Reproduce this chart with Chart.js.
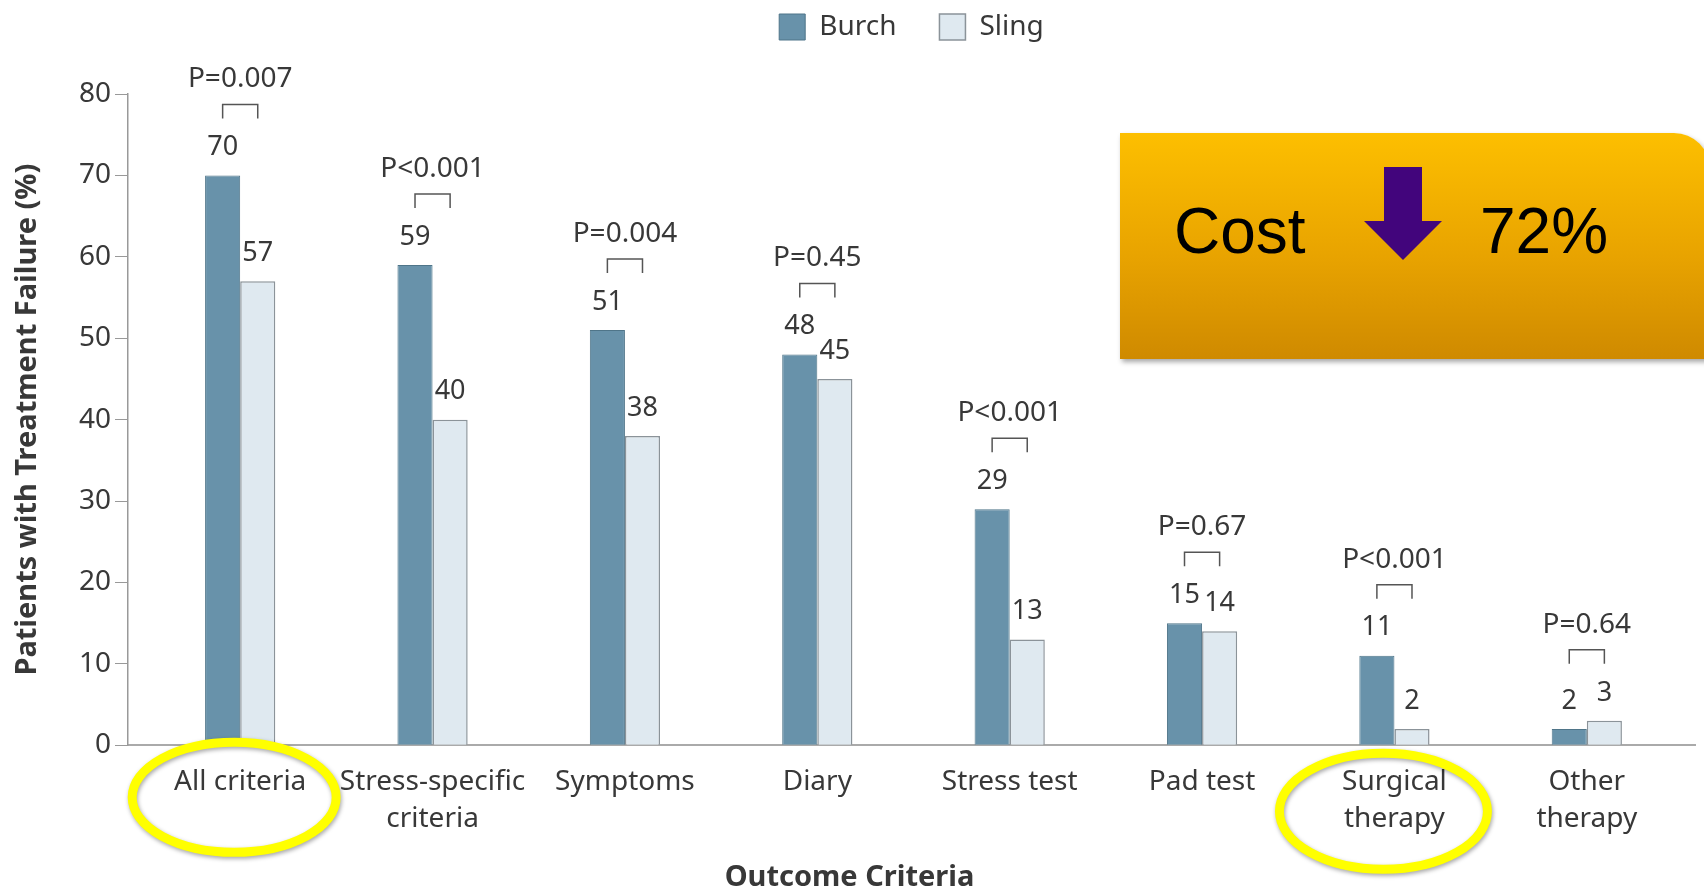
<!DOCTYPE html>
<html>
<head>
<meta charset="utf-8">
<script src="https://cdn.jsdelivr.net/npm/chart.js@4.4.1/dist/chart.umd.min.js"></script>
<style>
  html, body { margin: 0; padding: 0; background: #fff; }
  #wrap { position: relative; width: 1704px; height: 889px; overflow: hidden; }
  #chart { position: absolute; left: 0; top: 0; }
  #costBox {
    position: absolute; left: 1120px; top: 133px; width: 590px; height: 226px;
    background: linear-gradient(#fdbf00, #e8a300 55%, #cf8a00);
    border-top-right-radius: 36px;
    box-shadow: 2px 3px 5px rgba(0,0,0,0.35);
    font-family: "Liberation Sans", Arial, sans-serif; color: #000;
  }
  #costBox .t { position: absolute; top: 66px; font-size: 64px; line-height: 1; }
  #costBox svg { position: absolute; left: 242px; top: 32px; }
</style>
</head>
<body>
<div id="wrap">
  <canvas id="chart" width="1704" height="889"></canvas>
  <div id="costBox">
    <span class="t" style="left:54px">Cost</span>
    <svg width="84" height="100" viewBox="0 0 84 100">
      <polygon points="22,2 60,2 60,56 80,56 41,95 2,56 22,56" fill="#42057c"/>
    </svg>
    <span class="t" style="left:360px">72%</span>
  </div>
</div>
<script>
const categories = [
    "All criteria",
    ["Stress-specific", "criteria"],
    "Symptoms",
    "Diary",
    "Stress test",
    "Pad test",
    ["Surgical", "therapy"],
    ["Other", "therapy"],
];
const burch = [70, 59, 51, 48, 29, 15, 11, 2];
const sling = [57, 40, 38, 45, 13, 14, 2, 3];
const pValues = ["P=0.007", "P<0.001", "P=0.004", "P=0.45", "P<0.001", "P=0.67", "P<0.001", "P=0.64"];
const yTicks = [0, 10, 20, 30, 40, 50, 60, 70, 80];
const circled = [0, 6];

const FONT = "'Noto Sans', 'Open Sans', sans-serif";
const TEXT = "#383838";

// value labels, P-value brackets and the yellow circles
const annotatePlugin = {
    id: "annotate",
    afterDatasetsDraw(chart) {
        const ctx = chart.ctx;
        const m0 = chart.getDatasetMeta(0);
        const m1 = chart.getDatasetMeta(1);
        ctx.save();
        ctx.fillStyle = TEXT;
        ctx.textAlign = "center";
        ctx.textBaseline = "middle";
        categories.forEach((c, i) => {
            const b0 = m0.data[i], b1 = m1.data[i];
            ctx.font = "27px " + FONT;
            ctx.fillText(String(burch[i]), b0.x, b0.y - 28);
            ctx.fillText(String(sling[i]), b1.x, b1.y - 28);
            const top = Math.min(b0.y, b1.y);
            const by = top - 71;
            ctx.strokeStyle = "#555";
            ctx.lineWidth = 1.5;
            ctx.beginPath();
            ctx.moveTo(b0.x, by + 14);
            ctx.lineTo(b0.x, by);
            ctx.lineTo(b1.x, by);
            ctx.lineTo(b1.x, by + 14);
            ctx.stroke();
            ctx.font = "28px " + FONT;
            ctx.fillText(pValues[i], (b0.x + b1.x) / 2, top - 96);
        });
        ctx.restore();
    },
    afterDraw(chart) {
        const ctx = chart.ctx;
        const x = chart.scales.x;
        const bottom = chart.chartArea.bottom;
        ctx.save();
        ctx.strokeStyle = "#ffff00";
        ctx.lineWidth = 9;
        ctx.shadowColor = "rgba(0,0,0,0.35)";
        ctx.shadowBlur = 4;
        ctx.shadowOffsetX = 1;
        ctx.shadowOffsetY = 2;
        circled.forEach((i, k) => {
            const cx = x.getPixelForValue(i) - (k === 0 ? 6 : 11);
            const cy = bottom + (k === 0 ? 52 : 66);
            const rx = k === 0 ? 102 : 104;
            const ry = k === 0 ? 55 : 58;
            ctx.beginPath();
            ctx.ellipse(cx, cy, rx, ry, 0, 0, Math.PI * 2);
            ctx.stroke();
        });
        ctx.restore();
    },
};

new Chart(document.getElementById("chart"), {
    type: "bar",
    data: {
        labels: categories,
        datasets: [
            {
                label: "Burch",
                data: burch,
                backgroundColor: "#6892aa",
                borderColor: "#4f7589",
                borderWidth: 1,
            },
            {
                label: "Sling",
                data: sling,
                backgroundColor: "#dfe9f0",
                borderColor: "#8b9399",
                borderWidth: 1.5,
            },
        ],
    },
    options: {
        responsive: false,
        animation: false,
        categoryPercentage: 0.365,
        barPercentage: 1,
        layout: { padding: { top: -30, right: 9, left: 4, bottom: -6 } },
        plugins: {
            legend: {
                fullSize: false,
                weight: 3000,
                labels: {
                    boxWidth: 26,
                    boxHeight: 26,
                    padding: 43,
                    color: TEXT,
                    font: { size: 28, family: FONT },
                },
            },
            // empty spacer between the legend and the plot
            subtitle: {
                display: true,
                text: "",
                position: "top",
                font: { size: 10 },
                padding: { top: 0, bottom: 31 },
            },
            title: {
                display: true,
                text: "Outcome Criteria",
                position: "bottom",
                color: TEXT,
                padding: { top: 5, bottom: 0 },
                font: { size: 29, weight: "bold", family: FONT },
            },
            tooltip: { enabled: false },
        },
        scales: {
            x: {
                afterUpdate(scale) {
                    // the categories sit a little inside the axis line
                    if (scale._inset) return;
                    scale._inset = true;
                    const base = scale.configure;
                    scale.configure = function () {
                        base.call(this);
                        this._startPixel += 16;
                        this._endPixel -= 12;
                        this._length = this._endPixel - this._startPixel;
                    };
                },
                grid: { display: false, drawTicks: false },
                border: { color: "#aaa", width: 2 },
                ticks: {
                    color: TEXT,
                    padding: 18,
                    maxRotation: 0,
                    autoSkip: false,
                    font: { size: 28, family: FONT, lineHeight: 1.32 },
                },
            },
            y: {
                min: 0,
                max: 80,
                afterBuildTicks(scale) {
                    scale.ticks = yTicks.map((v) => ({ value: v }));
                },
                afterFit(scale) {
                    scale.width = 124;
                },
                grid: { drawOnChartArea: false, tickLength: 13, color: "#999" },
                border: { color: "#999", width: 1.5 },
                ticks: {
                    color: TEXT,
                    padding: 4,
                    font: { size: 28, family: FONT },
                },
                title: {
                    display: true,
                    text: "Patients with Treatment Failure (%)",
                    color: TEXT,
                    padding: { top: 6, bottom: 0 },
                    font: { size: 29, weight: "bold", family: FONT },
                },
            },
        },
    },
    plugins: [annotatePlugin],
});
</script>
</body>
</html>
